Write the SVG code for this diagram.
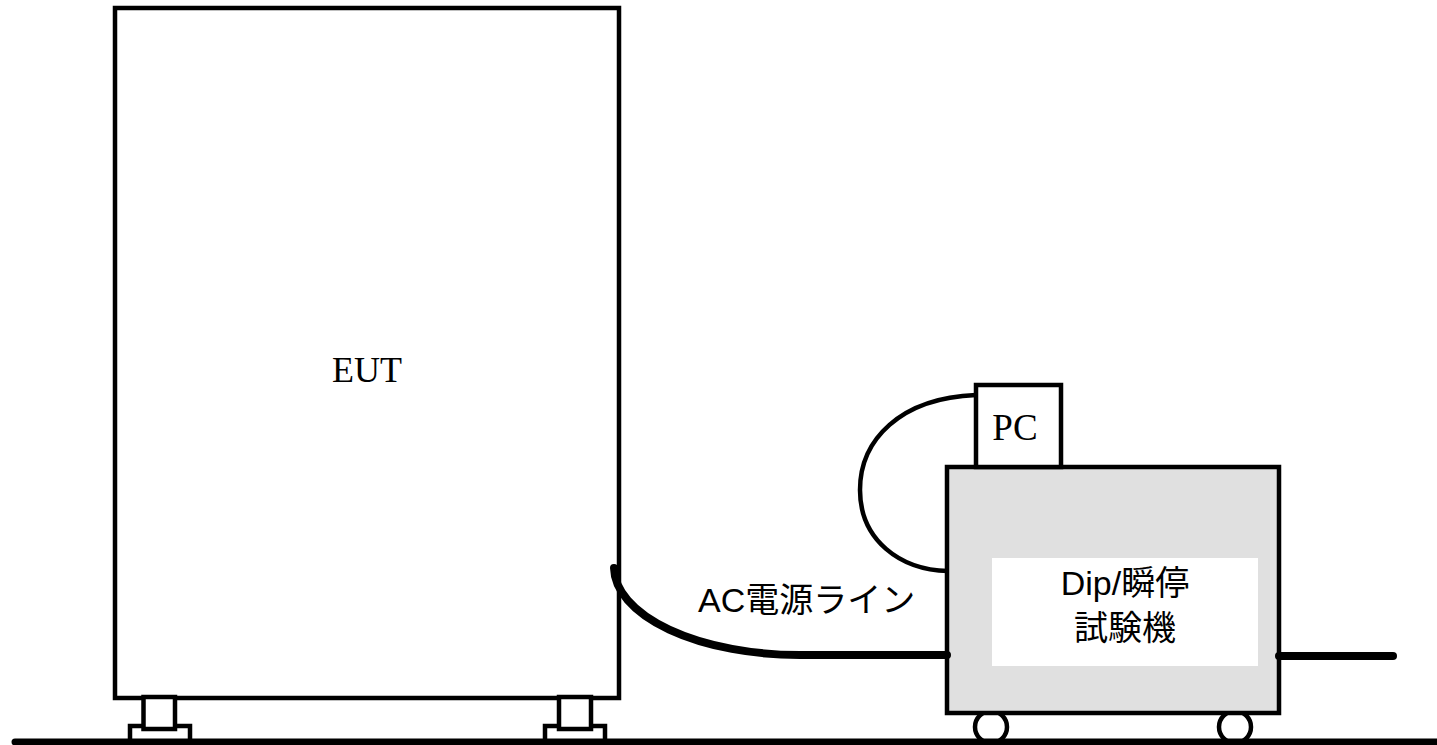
<svg xmlns="http://www.w3.org/2000/svg" width="1437" height="745" viewBox="0 0 1437 745">
<style>
.ln{fill:none;stroke:#000;stroke-width:4.5}
.box{fill:#fff;stroke:#000;stroke-width:4.5}
.serif{font-family:"Liberation Serif","Times New Roman",serif;fill:#000}
.sans{font-family:"Liberation Sans",Arial,"Noto Sans CJK JP",sans-serif;fill:#000}
</style>
<rect width="1437" height="745" fill="#fff"/>
<g id="eut">
<rect class="box" x="115" y="8" width="504" height="690"/>
<text class="serif" x="367" y="382" font-size="36" text-anchor="middle">EUT</text>
</g>
<g id="foot-left">
<rect class="box" x="130" y="726" width="60" height="16"/>
<rect class="box" x="143.5" y="697" width="31.5" height="32"/>
</g>
<g id="foot-right">
<rect class="box" x="545" y="726" width="60" height="16"/>
<rect class="box" x="559" y="697" width="32" height="32"/>
</g>
<g id="tester">
<circle class="box" cx="991" cy="727" r="16"/>
<circle class="box" cx="1235" cy="727" r="16"/>
<rect x="947" y="467" width="332" height="246" fill="#e0e0e0" stroke="#000" stroke-width="4.5"/>
<rect x="992" y="558" width="266" height="108" fill="#fff"/>
<text class="sans" x="1125" y="595" font-size="34" text-anchor="middle">Dip/瞬停</text>
<text class="sans" x="1125" y="640" font-size="34" text-anchor="middle">試験機</text>
</g>
<g id="pc">
<rect class="box" x="976" y="385" width="85" height="82"/>
<text class="serif" x="1015" y="440" font-size="37" text-anchor="middle">PC</text>
</g>
<g id="connectors">
<path class="ln" d="M 976 395 C 900 398 860 440 860 490 C 860 540 900 570 948 571"/>
<path d="M 614 568 A 186 88 0 0 0 800 655 L 947 655" fill="none" stroke="#000" stroke-width="8" stroke-linecap="round"/>
<path d="M 1279 656 L 1393 656" fill="none" stroke="#000" stroke-width="8" stroke-linecap="round"/>
</g>
<g id="ground">
<line x1="15" y1="742" x2="1437" y2="742" stroke="#000" stroke-width="7" stroke-linecap="round"/>
</g>
<text class="sans" x="698" y="612" font-size="34">AC電源ライン</text>
</svg>
